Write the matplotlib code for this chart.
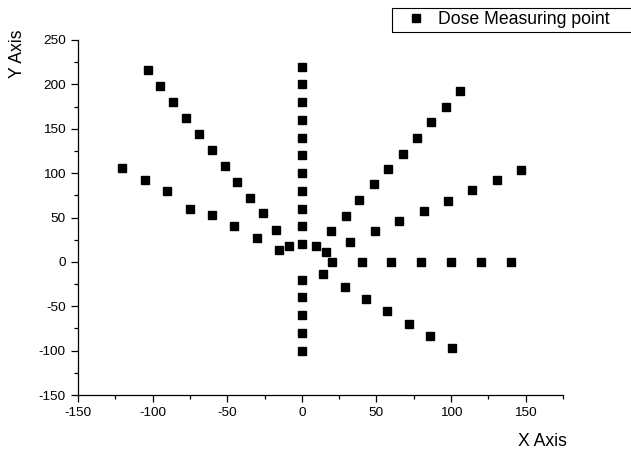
import matplotlib
matplotlib.use("Agg")
import matplotlib.pyplot as plt
from matplotlib.patches import Rectangle
from matplotlib.ticker import MultipleLocator

plt.rcParams['font.family'] = ['Liberation Sans', 'DejaVu Sans']
plt.rcParams['axes.unicode_minus'] = False

# measuring points, one list per ray from the source
vert_x = [0] * 16
vert_y = [220, 200, 180, 160, 140, 120, 100, 80, 60, 40, 20,
          -20, -40, -60, -80, -100]

horiz_x = [20, 40, 60, 80, 100, 120, 140]
horiz_y = [0, 0, 0, 0, 0, 0, 0]

ur_steep_x = [9.4, 19.3, 29.3, 38.6, 48.3, 57.7, 67.6, 77, 86.8, 96.4, 106.3]
ur_steep_y = [17.5, 34.8, 52.2, 70.2, 87.4, 104.7, 121.9, 140, 157.3, 174.5, 192.6]

ur_flat_x = [16.1, 32.4, 49, 65.1, 81.7, 98, 114.2, 130.7, 147]
ur_flat_y = [11.5, 22.8, 34.8, 46.1, 57.4, 69, 80.7, 91.9, 103.5]

lr_x = [14.1, 28.6, 43, 57.1, 71.6, 86, 100.3]
lr_y = [-14, -27.9, -41.8, -55.7, -69.6, -83.5, -97.4]

ul_steep_x = [-8.7, -17.3, -26, -34.5, -43.3, -51.7, -60.4, -69, -77.7,
              -86.2, -95, -103.4]
ul_steep_y = [18.3, 35.9, 55.1, 72.3, 90.4, 108.4, 126.4, 144.5, 162.5,
              180.5, 198.2, 216.6]

ul_flat_x = [-15.4, -30.2, -45.5, -60.2, -75.2, -90.5, -105.2, -120.5]
ul_flat_y = [13.1, 26.6, 40.1, 52.8, 60, 79.5, 92.3, 106.2]

xs = vert_x + horiz_x + ur_steep_x + ur_flat_x + lr_x + ul_steep_x + ul_flat_x
ys = vert_y + horiz_y + ur_steep_y + ur_flat_y + lr_y + ul_steep_y + ul_flat_y

W, H = 631, 451
fig = plt.figure(figsize=(W / 100, H / 100), dpi=100)
ax = fig.add_axes([78 / W, (H - 395) / H, (563 - 78) / W, (395 - 40) / H])

ax.plot(xs, ys, ls='none', marker='s', ms=5.2, color='black',
        label='Dose Measuring point')

ax.set_xlim(-150, 175)
ax.set_ylim(-150, 250)
ax.xaxis.set_major_locator(MultipleLocator(50))
ax.xaxis.set_minor_locator(MultipleLocator(25))
ax.yaxis.set_major_locator(MultipleLocator(50))
ax.yaxis.set_minor_locator(MultipleLocator(25))
ax.set_xticks([-150, -100, -50, 0, 50, 100, 150])

for s in ['top', 'right']:
    ax.spines[s].set_visible(False)
for s in ['left', 'bottom']:
    ax.spines[s].set_linewidth(0.9)

ax.tick_params(which='major', direction='out', length=4.8, width=0.9,
               labelsize=9.7, pad=4)
ax.tick_params(which='minor', direction='out', length=2.8, width=0.9)

ax.set_xlabel('X Axis', fontsize=12.7, va='center', ha='center')
ax.xaxis.set_label_coords((542 - 78) / 485, (395 - 441) / 355)
ax.set_ylabel('Y Axis', fontsize=12.7, va='center', ha='center')
ax.yaxis.set_label_coords((18 - 78) / 485, (395 - 54) / 355)

# legend box, its right edge runs off the image
fig.patches.append(Rectangle((392 / W, 1 - 31.7 / H), 250 / W, 23.4 / H,
                             transform=fig.transFigure, fill=False,
                             edgecolor='black', linewidth=0.8))
fig.legend(loc='center left', bbox_to_anchor=(407 / W, 1 - 20 / H),
           frameon=False, fontsize=12.7, handlelength=1.0,
           handletextpad=0.75, borderpad=0, borderaxespad=0,
           markerscale=1.0)

fig.savefig('out.png', dpi=100)
